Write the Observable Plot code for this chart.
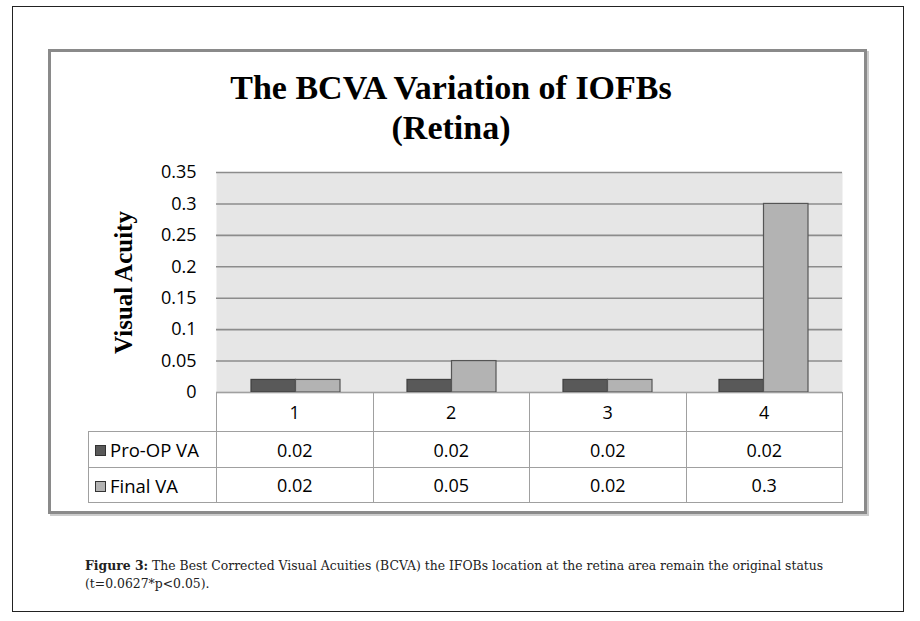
<!DOCTYPE html>
<html>
<head>
<meta charset="utf-8">
<script src="https://cdn.jsdelivr.net/npm/d3@7"></script>
<script src="https://cdn.jsdelivr.net/npm/@observablehq/plot@0.6"></script>
<style>
  html, body { margin: 0; padding: 0; background: #fff; }
  body { width: 920px; height: 621px; position: relative; overflow: hidden; }
  #outer { position: absolute; left: 12px; top: 6px; width: 892px; height: 606px;
           border: 1.5px solid #222; box-sizing: border-box; }
  #frame { position: absolute; left: 48px; top: 49px; width: 819px; height: 465px;
           border: 3px solid #8a8a8a; box-sizing: border-box; box-shadow: 2px 2px 0 #cccccc; }
  #title { position: absolute; left: 49px; top: 68px; width: 804px; text-align: center;
           font-family: "Liberation Serif", "Times New Roman", serif; font-weight: bold;
           font-size: 34px; line-height: 40px; color: #000; }
  #plot { position: absolute; left: 100px; top: 150px; }
  #table { position: absolute; left: 88px; top: 392px; border-collapse: collapse; table-layout: fixed;
           font-family: "Open Sans", sans-serif; font-size: 18px; color: #000; }
  #table td { border: 1.5px solid #a0a0a0; text-align: center; padding: 0; }
  #table td.blank { border: none; }
  #table td.leg { text-align: left; padding-left: 6px; white-space: nowrap; font-size: 18.5px; }
  .sw { display: inline-block; width: 9px; height: 9px; border: 1px solid #333; margin-right: 4px;
        vertical-align: 1px; }
  #caption { position: absolute; left: 85px; top: 557px; font-family: "DejaVu Serif", serif;
             font-size: 12.4px; line-height: 18px; color: #222; white-space: nowrap; }
</style>
</head>
<body>
<div id="outer"></div>
<div id="frame"></div>
<div id="title">The BCVA Variation of IOFBs<br>(Retina)</div>
<div id="plot"></div>
<table id="table"></table>
<div id="caption"><b>Figure 3:</b> The Best Corrected Visual Acuities (BCVA) the IFOBs location at the retina area remain the original status<br>(t=0.0627*p&lt;0.05).</div>
<script>
const categories = ["1", "2", "3", "4"];
const seriesNames = ["Pro-OP VA", "Final VA"];
const proOpVA = [0.02, 0.02, 0.02, 0.02];
const finalVA = [0.02, 0.05, 0.02, 0.3];
const yTicks = [0, 0.05, 0.1, 0.15, 0.2, 0.25, 0.3, 0.35];
const yTickLabels = ["0", "0.05", "0.1", "0.15", "0.2", "0.25", "0.3", "0.35"];
const seriesColors = ["#595959", "#b3b3b3"];

const rows = categories.map((c, i) => ({cat: c, pro: proOpVA[i], fin: finalVA[i]}));

const chart = Plot.plot({
  width: 760,
  height: 256,
  marginLeft: 116,
  marginRight: 18,
  marginTop: 22,
  marginBottom: 14,
  style: {background: "transparent", fontFamily: "'Open Sans', sans-serif", fontSize: "18px", color: "#000", overflow: "visible"},
  x: {domain: categories, paddingInner: 0.4313, paddingOuter: 0.2157, axis: null},
  y: {domain: [0, 0.35], ticks: yTicks, tickFormat: (d) => yTickLabels[yTicks.indexOf(d)],
      tickSize: 0, tickPadding: 20, label: null},
  marks: [
    Plot.frame({fill: "#e6e6e6", stroke: null}),
    Plot.ruleY(yTicks, {stroke: "#8c8c8c", strokeWidth: 1.6}),
    Plot.barY(rows, {x: "cat", y: "pro", fill: seriesColors[0], stroke: "#404040", strokeWidth: 1.2, insetRight: 44.5}),
    Plot.barY(rows, {x: "cat", y: "fin", fill: seriesColors[1], stroke: "#555555", strokeWidth: 1.2, insetLeft: 44.5}),
    Plot.text(["Visual Acuity"], {text: (d) => d, frameAnchor: "left", dx: -93, rotate: -90,
      textAnchor: "middle", lineAnchor: "middle",
      fontSize: 25, fontWeight: "bold", fontFamily: "'Liberation Serif', serif", fill: "#000"})
  ]
});
document.getElementById("plot").appendChild(chart);

// data table below the chart
const table = document.getElementById("table");
const colW = 156.5;
let html = "<colgroup><col style='width:128px'>" + categories.map(() => `<col style='width:${colW}px'>`).join("") + "</colgroup>";
html += "<tr style='height:39px'><td class='blank'></td>" + categories.map((c) => `<td>${c}</td>`).join("") + "</tr>";
const series = [proOpVA, finalVA];
const rowH = [36, 35];
series.forEach((vals, s) => {
  html += `<tr style='height:${rowH[s]}px'><td class='leg'><span class='sw' style='background:${seriesColors[s]}'></span>${seriesNames[s]}</td>` +
    vals.map((v) => `<td>${v}</td>`).join("") + "</tr>";
});
table.innerHTML = html;
</script>
</body>
</html>
